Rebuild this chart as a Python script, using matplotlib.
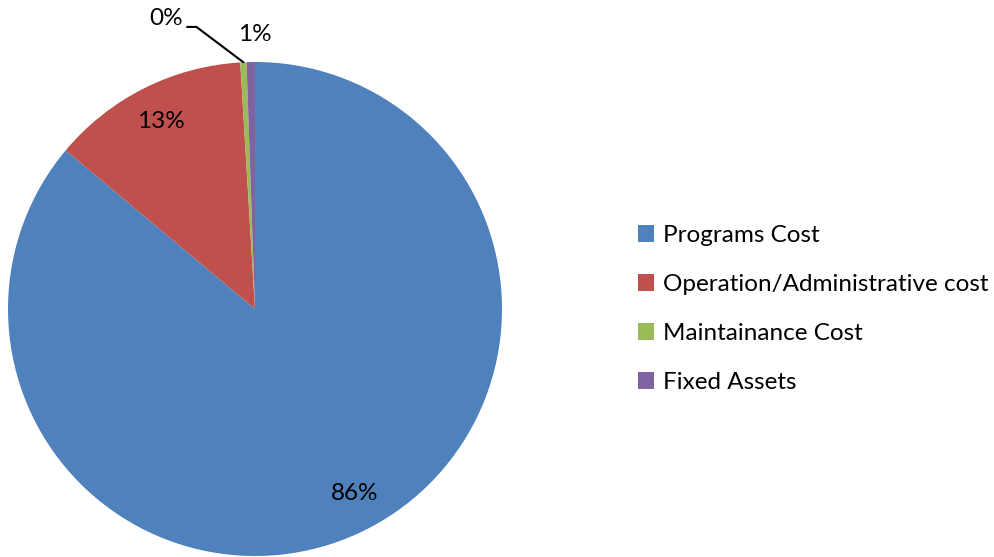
import numpy as np
import matplotlib.pyplot as plt
from matplotlib.patches import Patch

categories = ['Programs Cost', 'Operation/Administrative cost',
              'Maintainance Cost', 'Fixed Assets']
values = [86.1, 12.95, 0.4, 0.55]
colors = ['#4F81BD', '#C0504D', '#9BBB59', '#8064A2']

plt.rcParams['font.family'] = ['Lato', 'DejaVu Sans']

fig = plt.figure(figsize=(9.95, 5.57), dpi=100)
ax = fig.add_axes([8 / 995, 1 / 557, 494 / 995, 494 / 557])

wedges, texts, autotexts = ax.pie(
    values, colors=colors, startangle=90, counterclock=False,
    autopct='%1.0f%%', pctdistance=0.85, radius=1,
    wedgeprops=dict(linewidth=0),
    textprops=dict(fontsize=17.5, color='black'))

ax.set_xlim(-1, 1)
ax.set_ylim(-1, 1)
ax.set_aspect('equal')

# label placement like the original (best fit)
autotexts[0].set_position((0.405, -0.745))
autotexts[3].set_position((0.0, 1.11))
green = wedges[2]
mid = np.deg2rad((green.theta1 + green.theta2) / 2)
tip = (np.cos(mid), np.sin(mid))
autotexts[2].set_position((-0.36, 1.175))
ax.annotate('', xy=tip, xytext=(-0.275, 1.142),
            arrowprops=dict(arrowstyle='-', color='black', lw=1.5,
                            connectionstyle='angle,angleA=0,angleB=-37,rad=0',
                            shrinkA=0, shrinkB=0),
            annotation_clip=False)
for t in autotexts:
    t.set_clip_on(False)

handles = [Patch(facecolor=c, edgecolor='none') for c in colors]
fig.legend(handles, categories, loc='center left',
           bbox_to_anchor=(616 / 995, 1 - 309 / 557), frameon=False,
           fontsize=17.5, handlelength=0.65, handleheight=0.65,
           handletextpad=0.4, labelspacing=1.15)

fig.savefig('out.png', dpi=100)
